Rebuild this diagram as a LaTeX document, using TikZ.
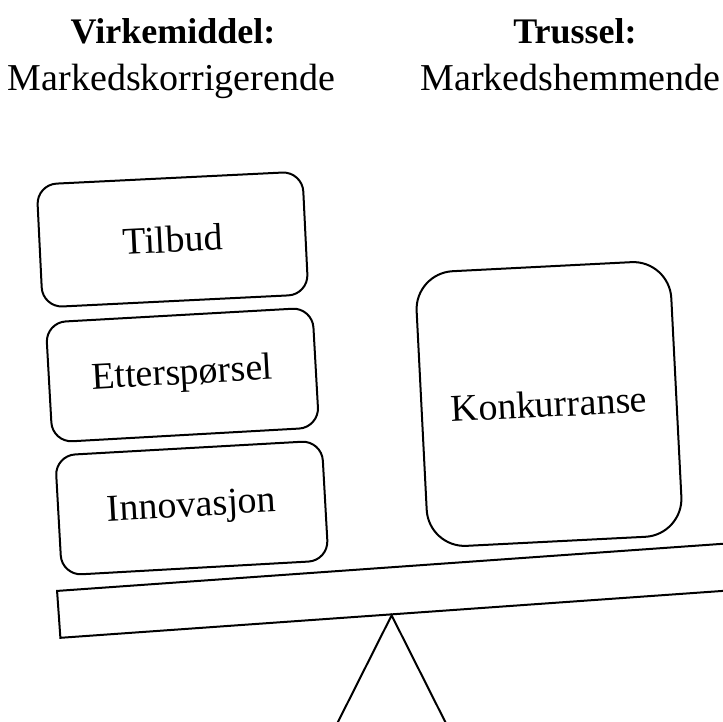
\documentclass[tikz,border=0pt]{standalone}
\usepackage{fontspec}
\setmainfont{Liberation Serif}
\usetikzlibrary{calc}
\begin{document}
\begin{tikzpicture}[x=1pt,y=-1pt,
  line/.style={line width=2pt, line join=miter},
  box/.style={draw, line width=2pt, rounded corners=20pt, inner sep=0pt, align=center,
    font=\fontsize{38}{44}\selectfont},
  bigbox/.style={box, rounded corners=38pt},
  head/.style={anchor=base, font=\bfseries\fontsize{36}{40}\selectfont},
  sub/.style={anchor=base, font=\fontsize{38}{44}\selectfont}]
\useasboundingbox (0,0) rectangle (723,722);
\clip (0,0) rectangle (723,722);
% headings
\node[head] (h1) at (173,43.3) {Virkemiddel:};
\node[sub] (s1) at (171.5,91) {Markedskorrigerende};
\node[head] (h2) at (575,43.3) {Trussel:};
\node[sub] (s2) at (570.5,91) {Markedshemmende};
% boxes
\node[box, rotate=2.8, minimum width=266pt, minimum height=123pt] (tilbud) at (172.5,239.5) {Tilbud};
\node[box, rotate=3.2, minimum width=267pt, minimum height=120pt] (etter) at (182.4,375) {Etterspørsel};
\node[box, rotate=3.2, minimum width=267pt, minimum height=120pt] (innov) at (191.8,508) {Innovasjon};
\node[bigbox, rotate=2.9, minimum width=255pt, minimum height=275pt] (konk) at (549,404) {Konkurranse};
% beam
\node[draw, line, rotate=4.05, minimum width=760pt, minimum height=47pt, inner sep=0pt,
  anchor=north west] (beam) at (56,590) {};
\coordinate (apex) at ($(beam.south west)!0.437!(beam.south east)$);
\coordinate (fl) at ($(apex)+(-73,145)$);
\coordinate (fr) at ($(apex)+(73,145)$);
\draw[line] (fl) -- (apex) -- (fr);
\end{tikzpicture}
\end{document}
